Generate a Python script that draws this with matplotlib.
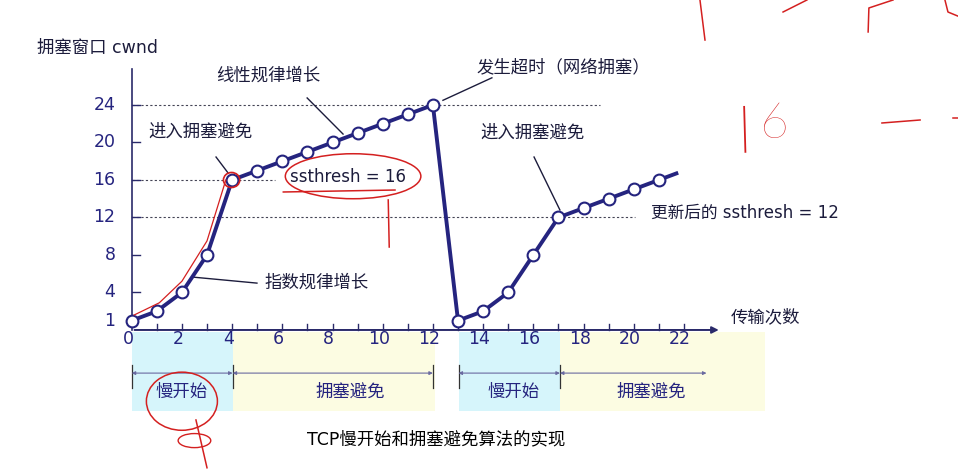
import matplotlib
matplotlib.use("Agg")
import matplotlib.pyplot as plt
from matplotlib.patches import Ellipse, Rectangle

plt.rcParams['font.family'] = ['DejaVu Sans', 'Noto Sans CJK SC']

# data
rounds = [0, 1, 2, 3, 4, 5, 6, 7, 8, 9, 10, 11, 12, 13, 14, 15, 16, 17, 18, 19, 20, 21]
cwnd = [1, 2, 4, 8, 16, 17, 18, 19, 20, 21, 22, 23, 24, 1, 2, 4, 8, 12, 13, 14, 15, 16]
tail_x, tail_y = 21.7, 16.7
xtick_vals = [0, 2, 4, 6, 8, 10, 12, 14, 16, 18, 20, 22]
ytick_vals = [1, 4, 8, 12, 16, 20, 24]
thresholds = [24, 16, 12]
threshold_ends = [18.65, 5.7, 20.05]
phases = ["慢开始", "拥塞避免", "慢开始", "拥塞避免"]
phase_start = [0, 4.02, 13.02, 17.06]
phase_end = [4.02, 12.0, 17.06, 22.9]
band_end = [4.02, 12.1, 17.06, 25.25]
label_pos = [2.0, 8.7, 15.2, 20.7]
phase_colors = ["#d6f5fb", "#fcfce2", "#d6f5fb", "#fcfce2"]

navy = "#25247f"
txt = "#1c1c3c"

fig = plt.figure(figsize=(9.58, 4.69), dpi=100)
ax = fig.add_axes([0, 0, 1, 1])
ax.set_xlim(-5.247, 32.92)
ax.set_ylim(-14.83, 35.2)
ax.axis("off")

# background bands for phases
for s, e, c in zip(phase_start, band_end, phase_colors):
    ax.add_patch(Rectangle((s, -8.64), e - s, 8.44, color=c, zorder=0, lw=0))

# axes
ax.annotate("", xy=(23.5, 0), xytext=(0, 0),
            arrowprops=dict(arrowstyle="-|>", color="#2a2a6a", lw=1.4, mutation_scale=10))
ax.plot([0, 0], [0, 27.8], color="#2a2a6a", lw=1.2)
for i in range(1, 23):
    ax.plot([i, i], [0, 0.6], color="#2a2a6a", lw=1.0)
for v in ytick_vals[1:]:
    ax.plot([0, 0.33], [v, v], color="#2a2a6a", lw=1.0)
for v in xtick_vals:
    ax.text(v - 0.15, -1.0, str(v), ha="center", va="center", fontsize=12.5, color=navy)
for v in ytick_vals:
    ax.text(-0.65, v, str(v), ha="right", va="center", fontsize=12.5, color=navy)

# threshold dotted lines
for v, e in zip(thresholds, threshold_ends):
    ax.plot([0, e], [v, v], color="#444455", lw=0.8, ls=(0, (2, 2)), zorder=1)

# cwnd curve
ax.plot(rounds[:13], cwnd[:13], color=navy, lw=2.8, zorder=3)
ax.plot(rounds[12:] + [tail_x], cwnd[12:] + [tail_y], color=navy, lw=2.8, zorder=3)
ax.plot(rounds, cwnd, ls="none", marker="o", ms=8.5, mfc="white", mec=navy, mew=1.5, zorder=4)

# labels
ax.text(-3.77, 30.1, "拥塞窗口 cwnd", ha="left", va="center", fontsize=12.5, color=txt)
ax.text(25.23, 1.39, "传输次数", ha="center", va="center", fontsize=12.5, color=txt)
ax.text(5.45, 27.1, "线性规律增长", ha="center", va="center", fontsize=12.5, color=txt)
ax.text(2.74, 21.2, "进入拥塞避免", ha="center", va="center", fontsize=12.5, color=txt)
ax.text(8.6, 16.3, "ssthresh = 16", ha="center", va="center", fontsize=12, color=txt)
ax.text(7.38, 5.0, "指数规律增长", ha="center", va="center", fontsize=12.5, color=txt)
ax.text(17.2, 28.05, "发生超时（网络拥塞）", ha="center", va="center", fontsize=12.5, color=txt)
ax.text(15.97, 21.0, "进入拥塞避免", ha="center", va="center", fontsize=12.5, color=txt)
ax.text(24.45, 12.5, "更新后的 ssthresh = 12", ha="center", va="center", fontsize=12, color=txt)
ax.text(12.13, -11.7, "TCP慢开始和拥塞避免算法的实现", ha="center", va="center", fontsize=12.5, color="black")

# leader lines
leaders = [((6.99, 24.75), (8.42, 20.9)), ((3.36, 18.45), (3.84, 16.75)),
           ((2.4, 5.65), (4.99, 5.0)), ((12.4, 24.5), (14.35, 26.9)),
           ((16.03, 18.45), (17.06, 12.8))]
for a, b in leaders:
    ax.plot([a[0], b[0]], [a[1], b[1]], color=txt, lw=1.0)

# phase brackets
for s, e in zip(phase_start, phase_end):
    ax.annotate("", xy=(e, -4.6), xytext=(s, -4.6),
                arrowprops=dict(arrowstyle="<|-|>", color="#6a6aa0", lw=0.8, mutation_scale=5,
                                shrinkA=0, shrinkB=0))
for s in [0, 4.02, 12.0, 13.02, 17.06]:
    ax.plot([s, s], [-3.7, -6.2], color="#333333", lw=0.9)
for p, name in zip(label_pos, phases):
    ax.text(p, -6.6, name, ha="center", va="center", fontsize=12.5, color=navy)

# red handwritten marks
red = "#d42020"
ax.add_patch(Ellipse((8.82, 16.4), 5.4, 4.8, fill=False, ec=red, lw=1.1, zorder=5))
ax.add_patch(Ellipse((3.98, 16.0), 0.65, 1.6, fill=False, ec=red, lw=1.2, zorder=5))
ax.add_patch(Ellipse((2.0, -7.6), 2.83, 6.2, fill=False, ec=red, lw=1.1, zorder=5))
ax.add_patch(Ellipse((2.5, -11.8), 1.3, 1.5, fill=False, ec=red, lw=1.0, zorder=5))
ax.plot([0.1, 1.1, 2.0, 3.0, 3.75], [1.6, 2.9, 5.2, 9.5, 16.0], color=red, lw=0.9, zorder=5)
strokes = [
    ([6.04, 10.49], [14.72, 14.93]),
    ([10.22, 10.26], [13.87, 8.85]),
    ([2.56, 3.0], [-9.6, -14.7]),
    ([22.64, 22.84], [35.2, 30.93]),
    ([25.95, 26.9], [33.92, 35.2]),
    ([29.34, 29.37, 30.33], [31.79, 34.35, 35.2]),
    ([32.4, 32.52, 32.9], [35.2, 33.92, 33.5]),
    ([29.89, 31.41], [22.08, 22.4]),
    ([32.72, 32.92], [22.6, 22.6]),
]
for sx, sy in strokes:
    ax.plot(sx, sy, color=red, lw=1.1, zorder=5)
ax.plot([24.4, 24.45], [23.8, 19.0], color=red, lw=1.3, zorder=5)
ax.text(25.62, 21.9, "6", ha="center", va="center", fontsize=36, color=red,
        family="Lato", fontweight="light")

fig.savefig("out.png", dpi=100)
